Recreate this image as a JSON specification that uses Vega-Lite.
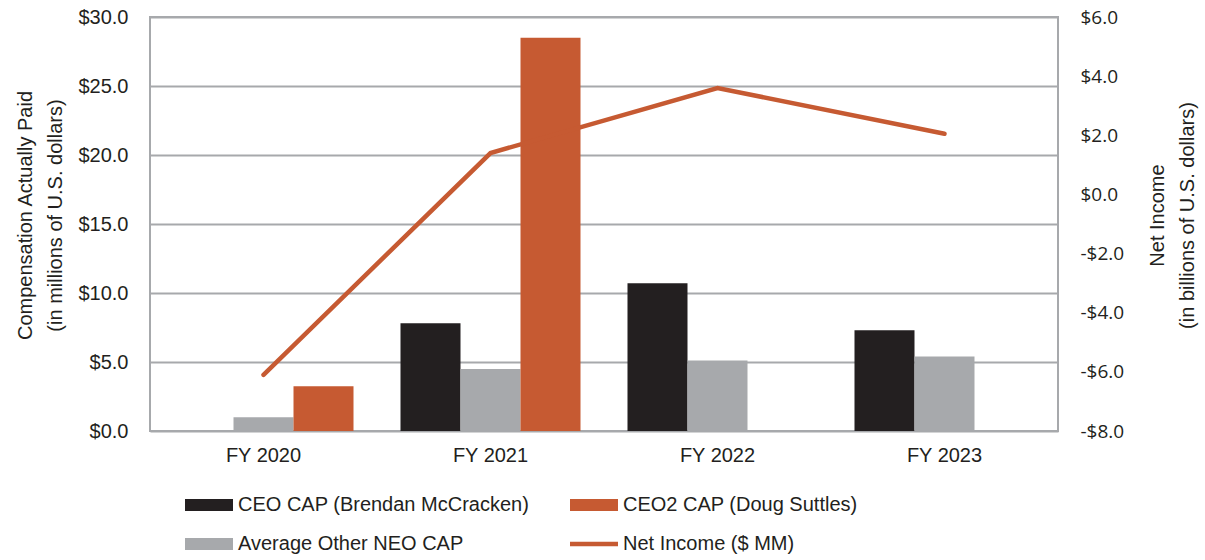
{
  "$schema": "https://vega.github.io/schema/vega-lite/v6.json",
  "width": 908,
  "height": 414,
  "autosize": {"type": "none"},
  "padding": {"left": 150, "top": 17, "right": 147, "bottom": 129},
  "background": "white",
  "config": {
    "font": "Liberation Sans",
    "view": {"stroke": "#a7a9ac", "strokeWidth": 2},
    "axis": {"domain": false, "ticks": false, "labelColor": "#231f20", "titleColor": "#231f20", "labelFontSize": 20, "titleFontSize": 20, "titleFontWeight": "normal", "labelFont": "Liberation Sans", "titleFont": "Liberation Sans"}
  },
  "datasets": {
    "bars": [
      {"year": "FY 2020", "series": "Average Other NEO CAP", "value": 1.0},
      {"year": "FY 2020", "series": "CEO2 CAP (Doug Suttles)", "value": 3.25},
      {"year": "FY 2021", "series": "CEO CAP (Brendan McCracken)", "value": 7.8},
      {"year": "FY 2021", "series": "Average Other NEO CAP", "value": 4.5},
      {"year": "FY 2021", "series": "CEO2 CAP (Doug Suttles)", "value": 28.5},
      {"year": "FY 2022", "series": "CEO CAP (Brendan McCracken)", "value": 10.7},
      {"year": "FY 2022", "series": "Average Other NEO CAP", "value": 5.1},
      {"year": "FY 2023", "series": "CEO CAP (Brendan McCracken)", "value": 7.3},
      {"year": "FY 2023", "series": "Average Other NEO CAP", "value": 5.4}
    ],
    "net": [
      {"year": "FY 2020", "series": "Net Income ($ MM)", "value": -6.1},
      {"year": "FY 2021", "series": "Net Income ($ MM)", "value": 1.4},
      {"year": "FY 2022", "series": "Net Income ($ MM)", "value": 3.6},
      {"year": "FY 2023", "series": "Net Income ($ MM)", "value": 2.05}
    ]
  },
  "layer": [
    {
      "data": {"name": "bars"},
      "mark": {"type": "bar"},
      "encoding": {
        "x": {
          "field": "year", "type": "nominal",
          "scale": {"domain": ["FY 2020", "FY 2021", "FY 2022", "FY 2023"], "paddingInner": 0.207, "paddingOuter": 0.1035},
          "axis": {"title": null, "labelAngle": 0, "labelPadding": 14, "grid": false}
        },
        "xOffset": {
          "field": "series", "type": "nominal",
          "scale": {"domain": ["CEO CAP (Brendan McCracken)", "Average Other NEO CAP", "CEO2 CAP (Doug Suttles)"], "paddingInner": 0, "paddingOuter": 0}
        },
        "y": {
          "field": "value", "type": "quantitative",
          "scale": {"domain": [0, 30], "nice": false},
          "axis": {
            "values": [0, 5, 10, 15, 20, 25, 30],
            "labelExpr": "'$' + format(datum.value, '.1f')",
            "labelPadding": 22,
            "grid": true, "gridColor": "#a7a9ac", "gridWidth": 2,
            "title": ["Compensation Actually Paid", "(in millions of U.S. dollars)"],
            "titleLineHeight": 30,
            "titleX": -125, "titleY": 198, "titleAngle": 270,
            "titleAlign": "center", "titleBaseline": "middle"
          }
        },
        "color": {
          "field": "series", "type": "nominal",
          "scale": {
            "domain": ["CEO CAP (Brendan McCracken)", "Average Other NEO CAP", "CEO2 CAP (Doug Suttles)", "Net Income ($ MM)"],
            "range": ["#231f20", "#a7a9ac", "#c65a32", "#c65a32"]
          },
          "legend": {
            "title": null,
            "orient": "none",
            "legendX": 47,
            "legendY": 476,
            "columns": 2,
            "columnPadding": 40,
            "rowPadding": 17,
            "padding": 0,
            "symbolSize": 576,
            "labelFontSize": 20,
            "labelColor": "#231f20",
            "labelOffset": 17,
            "labelLimit": 500,
            "encode": {
              "symbols": {
                "update": {
                  "shape": {"signal": "datum.label === 'Net Income ($ MM)' ? 'M-2,-0.19H2V0.19H-2Z' : 'M-2,-0.5H2V0.5H-2Z'"},
                  "fill": {"scale": "color", "field": "value"},
                  "fillOpacity": {"value": 1},
                  "opacity": {"value": 1},
                  "strokeWidth": {"value": 0}
                }
              }
            }
          }
        }
      }
    },
    {
      "data": {"name": "net"},
      "mark": {"type": "line", "strokeWidth": 4.5, "strokeCap": "round", "strokeJoin": "miter"},
      "encoding": {
        "x": {"field": "year", "type": "nominal"},
        "y": {
          "field": "value", "type": "quantitative",
          "scale": {"domain": [-8, 6], "nice": false},
          "axis": {
            "orient": "right",
            "values": [-8, -6, -4, -2, 0, 2, 4, 6],
            "labelExpr": "(datum.value < 0 ? '-' : '') + '$' + format(abs(datum.value), '.1f')",
            "labelFont": "Open Sans",
            "labelFontSize": 19,
            "labelPadding": 22,
            "grid": false,
            "title": ["Net Income", "(in billions of U.S. dollars)"],
            "titleLineHeight": 30,
            "titleX": 99, "titleY": 198, "titleAngle": 270,
            "titleAlign": "center", "titleBaseline": "middle"
          }
        },
        "color": {"field": "series", "type": "nominal"}
      }
    }
  ],
  "resolve": {"scale": {"y": "independent"}}
}
